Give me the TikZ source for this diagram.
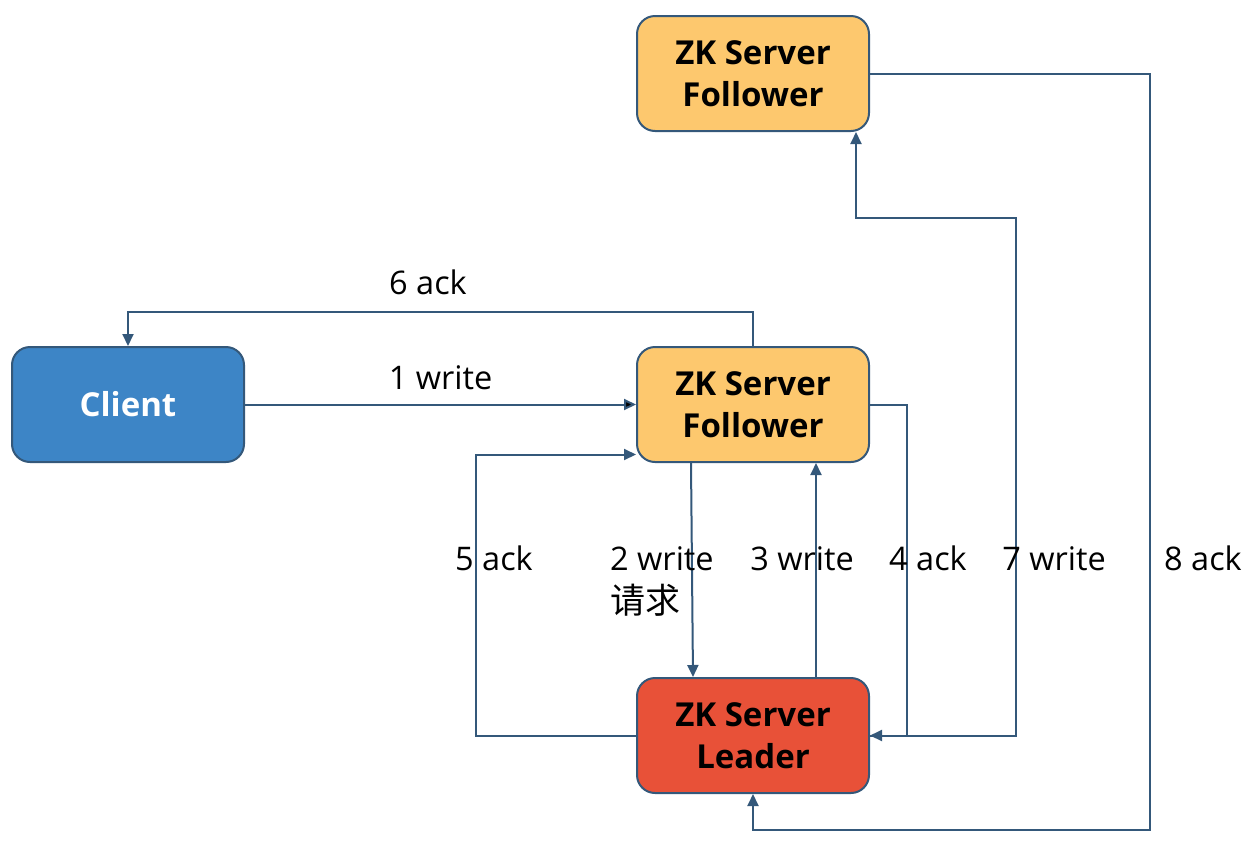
\documentclass[tikz,border=0pt]{standalone}
\usepackage{fontspec}
\setmainfont{Open Sans}
\newfontfamily\cjk{Noto Sans CJK SC}
\usetikzlibrary{arrows.meta}
\definecolor{linec}{HTML}{34587A}
\definecolor{clientc}{HTML}{3D85C6}
\definecolor{followc}{HTML}{FDC86E}
\definecolor{leaderc}{HTML}{E85138}

\begin{document}
\begin{tikzpicture}[x=1pt, y=-1pt, >={Triangle[length=12pt,width=11pt]},
  server/.style={draw=linec, line width=2pt, rounded corners=18pt, minimum width=232pt,
    minimum height=115pt, align=center, font=\fontsize{33}{42}\selectfont\bfseries},
  flow/.style={->, draw=linec, line width=2pt},
  lbl/.style={font=\fontsize{32.5}{43}\selectfont, inner sep=0pt}]
  \useasboundingbox (0,0) rectangle (1254,847);

  % boxes
  \node[server, fill=followc] (topf) at (753,73.5) {ZK Server\\Follower};
  \node[server, fill=followc] (follow) at (753,404.5) {ZK Server\\Follower};
  \node[server, fill=clientc, text=white] (client) at (128,404.5) {Client};
  \node[server, fill=leaderc] (leader) at (753,735.5) {ZK Server\\Leader};

  % connectors
  \path[flow]
  (client) edge node [lbl, above=14pt] {1 write} (follow)
  ;
  \draw[flow] (follow.north) -- ++(0,-34) -| node [lbl, pos=0.26, above=16pt] {6 ack} (client.north);
  \draw[flow] ([xshift=-62pt]follow.south) -- ([xshift=-60pt]leader.north);
  \draw[flow] ([xshift=63pt]leader.north) -- ([xshift=63pt]follow.south);
  \draw[flow] (follow.east) -- ++(37,0) |- (leader.east);
  \draw[flow] (leader.west) -- ++(-160,0) |- ([yshift=-50pt]follow.west);
  \draw[flow] (leader.east) -- ++(146,0) |- ([xshift=103pt,yshift=-86pt]topf.south) -- ([xshift=103pt]topf.south);
  \draw[flow] (topf.east) -- ++(280,0) |- ([yshift=-36pt]leader.south) -- (leader.south);

  % labels
  \node[lbl, anchor=base] (l5) at (494,570) {5 ack};
  \node[lbl, anchor=base west, align=left] (l2) at (610,613) {2 write\\{\cjk\fontsize{35}{43}\selectfont 请求}};
  \node[lbl, anchor=base] (l3) at (802,570) {3 write};
  \node[lbl, anchor=base] (l4) at (928,570) {4 ack};
  \node[lbl, anchor=base] (l7) at (1054,570) {7 write};
  \node[lbl, anchor=base] (l8) at (1203,570) {8 ack};
\end{tikzpicture}
\end{document}
